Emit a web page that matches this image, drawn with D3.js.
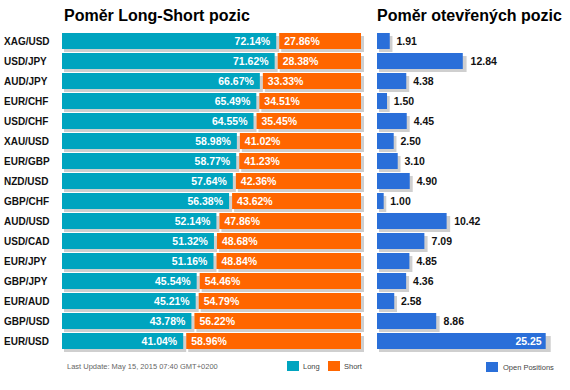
<!DOCTYPE html>
<html>
<head>
<meta charset="utf-8">
<script src="https://cdn.jsdelivr.net/npm/d3@7"></script>
<style>
  html, body { margin: 0; padding: 0; background: #fff; }
  svg { display: block; font-family: Arial, "Liberation Sans", sans-serif; }
</style>
</head>
<body>
<svg id="chart" width="570" height="390"></svg>
<script>
const pairs = ["XAG/USD","USD/JPY","AUD/JPY","EUR/CHF","USD/CHF","XAU/USD","EUR/GBP","NZD/USD","GBP/CHF","AUD/USD","USD/CAD","EUR/JPY","GBP/JPY","EUR/AUD","GBP/USD","EUR/USD"];
const longPct = [72.14,71.62,66.67,65.49,64.55,58.98,58.77,57.64,56.38,52.14,51.32,51.16,45.54,45.21,43.78,41.04];
const shortPct = [27.86,28.38,33.33,34.51,35.45,41.02,41.23,42.36,43.62,47.86,48.68,48.84,54.46,54.79,56.22,58.96];
const openPos = [1.91,12.84,4.38,1.50,4.45,2.50,3.10,4.90,1.00,10.42,7.09,4.85,4.36,2.58,8.86,25.25];
const titles = ["Poměr Long-Short pozic", "Poměr otevřených pozic"];
const legendLS = ["Long", "Short"];
const legendOpen = "Open Positions";
const updateText = "Last Update: May 15, 2015 07:40 GMT+0200";

const COL_LONG = "#00a4bf", COL_SHORT = "#ff6600", COL_OPEN = "#2a6fd9", COL_SHADOW = "#cfcfcf";

const svg = d3.select("#chart");
const data = pairs.map((p, i) => ({pair: p, long: longPct[i], short: shortPct[i], open: openPos[i]}));

const y = d3.scaleBand().domain(pairs).range([31, 351]).paddingInner(0.2).paddingOuter(0.1);
const bh = y.bandwidth();
const xL = d3.scaleLinear().domain([0, 100]).range([62, 361]);
const xR = d3.scaleLinear().domain([0, 25.25]).range([377, 545.7]);
const gap = 1.5;

// Titles
svg.append("text").attr("x", 64).attr("y", 21).attr("font-size", 16).attr("font-weight", "bold").attr("fill", "#000").text(titles[0]);
svg.append("text").attr("x", 377).attr("y", 21).attr("font-size", 16).attr("font-weight", "bold").attr("fill", "#000").text(titles[1]);

// Category labels
svg.append("g").selectAll("text").data(data).join("text")
  .attr("x", 4).attr("y", d => y(d.pair) + bh / 2).attr("dy", "0.35em")
  .attr("font-size", 10).attr("font-weight", "bold").attr("fill", "#111")
  .text(d => d.pair);

// Left chart
const gl = svg.append("g");
const rows = gl.selectAll("g").data(data).join("g");
// shadows
rows.append("rect").attr("fill", COL_SHADOW)
  .attr("x", d => xL(0) + 2).attr("y", d => y(d.pair) + 3)
  .attr("width", d => xL(d.long) - gap - xL(0) + 1).attr("height", bh);
rows.append("rect").attr("fill", COL_SHADOW)
  .attr("x", d => xL(d.long) + gap + 2).attr("y", d => y(d.pair) + 3)
  .attr("width", d => xL(100) - xL(d.long) - gap + 1).attr("height", bh);
// bars
rows.append("rect").attr("fill", COL_LONG)
  .attr("x", xL(0)).attr("y", d => y(d.pair))
  .attr("width", d => xL(d.long) - gap - xL(0)).attr("height", bh);
rows.append("rect").attr("fill", COL_SHORT)
  .attr("x", d => xL(d.long) + gap).attr("y", d => y(d.pair))
  .attr("width", d => xL(100) - xL(d.long) - gap).attr("height", bh);
// labels
rows.append("text").attr("text-anchor", "end")
  .attr("x", d => xL(d.long) - gap - 6).attr("y", d => y(d.pair) + bh / 2).attr("dy", "0.36em")
  .attr("font-size", 10.5).attr("font-weight", "bold").attr("fill", "#fff")
  .text(d => d.long.toFixed(2) + "%");
rows.append("text")
  .attr("x", d => xL(d.long) + gap + 5).attr("y", d => y(d.pair) + bh / 2).attr("dy", "0.36em")
  .attr("font-size", 10.5).attr("font-weight", "bold").attr("fill", "#fff")
  .text(d => d.short.toFixed(2) + "%");

// Right chart
const gr = svg.append("g");
const rrows = gr.selectAll("g").data(data).join("g");
rrows.append("rect").attr("fill", COL_SHADOW)
  .attr("x", xR(0) + 2).attr("y", d => y(d.pair) + 3)
  .attr("width", d => (xR(d.open) - xR(0)) * 1.015 + 0.5).attr("height", bh);
rrows.append("rect").attr("fill", COL_OPEN)
  .attr("x", xR(0)).attr("y", d => y(d.pair))
  .attr("width", d => xR(d.open) - xR(0)).attr("height", bh);
rrows.each(function(d) {
  const w = xR(d.open) - xR(0);
  const shadowRight = xR(0) + 2 + w * 1.015 + 0.5;
  const txt = d.open.toFixed(2);
  const inside = shadowRight + 4 + txt.length * 6 > 568;
  d3.select(this).append("text")
    .attr("x", inside ? xR(d.open) - 4 : shadowRight + 4)
    .attr("text-anchor", inside ? "end" : "start")
    .attr("y", y(d.pair) + bh / 2).attr("dy", "0.36em")
    .attr("font-size", 10.5).attr("font-weight", "bold")
    .attr("fill", inside ? "#fff" : "#111")
    .text(txt);
});

// Footer
svg.append("text").attr("x", 67).attr("y", 368.5).attr("font-size", 7.5).attr("fill", "#666").text(updateText);
const legItems = [{label: legendLS[0], color: COL_LONG, x: 287}, {label: legendLS[1], color: COL_SHORT, x: 328}];
legItems.forEach(it => {
  svg.append("rect").attr("x", it.x).attr("y", 361).attr("width", 12).attr("height", 10).attr("fill", it.color);
  svg.append("text").attr("x", it.x + 16).attr("y", 368.5).attr("font-size", 7.5).attr("fill", "#444").text(it.label);
});
svg.append("rect").attr("x", 486).attr("y", 362).attr("width", 12).attr("height", 10).attr("fill", COL_OPEN);
svg.append("text").attr("x", 503).attr("y", 369.5).attr("font-size", 7.5).attr("fill", "#444").text(legendOpen);
</script>
</body>
</html>
